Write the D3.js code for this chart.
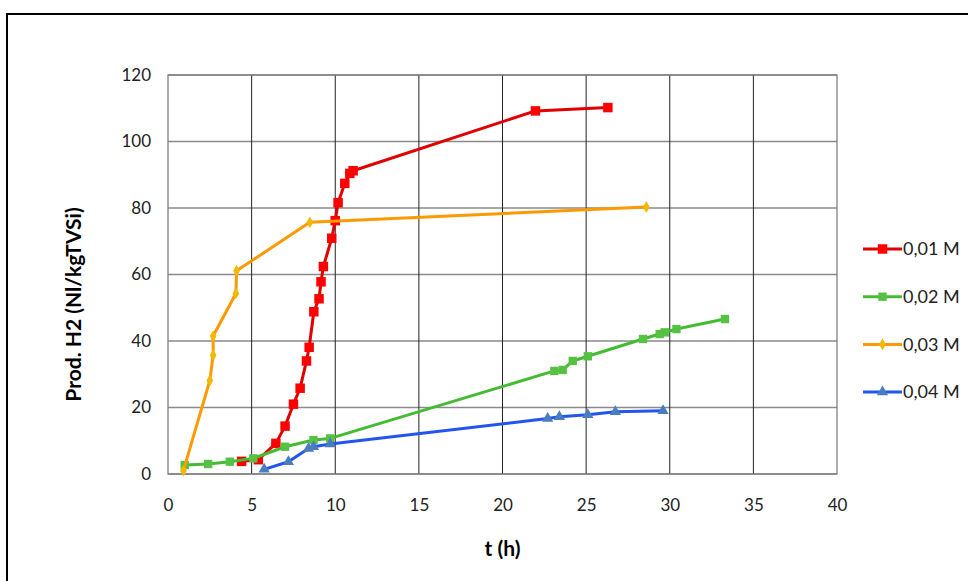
<!DOCTYPE html>
<html>
<head>
<meta charset="utf-8">
<script src="https://cdn.jsdelivr.net/npm/d3@7"></script>
<style>
  body { margin: 0; background: #fff; }
  svg text { font-family: Lato, "Open Sans", sans-serif; }
</style>
</head>
<body>
<div id="chart"></div>
<script>
// data
var t01 = [4.4, 5.4, 6.45, 7.0, 7.5, 7.9, 8.28, 8.44, 8.72, 9.03, 9.15, 9.29, 9.79, 10.0, 10.17, 10.57, 10.87, 11.07, 21.97, 26.3];
var h01 = [3.8, 4.3, 9.2, 14.4, 21, 25.8, 34, 38.1, 48.8, 52.7, 57.8, 62.4, 70.9, 76.2, 81.6, 87.4, 90.4, 91.2, 109.2, 110.2];

var t02 = [1.0, 2.4, 3.7, 5.1, 7.0, 8.7, 9.7, 23.1, 23.6, 24.2, 25.1, 28.4, 29.4, 29.7, 30.4, 33.3];
var h02 = [2.7, 3.0, 3.7, 4.7, 8.2, 10.2, 10.7, 31.0, 31.3, 34.0, 35.4, 40.6, 42.1, 42.6, 43.6, 46.6];

var t03 = [0.92, 2.5, 2.7, 2.7, 4.06, 4.1, 8.48, 28.6];
var h03 = [1.0, 28.1, 35.7, 41.5, 54.3, 61.1, 75.7, 80.3];

var t04 = [5.75, 7.2, 8.4, 8.7, 9.7, 22.7, 23.4, 25.1, 26.75, 29.6];
var h04 = [1.4, 3.7, 7.7, 8.2, 9.0, 16.7, 17.2, 17.8, 18.7, 19.0];

var seriesNames = ["0,01 M", "0,02 M", "0,03 M", "0,04 M"];
var xTicks = [0, 5, 10, 15, 20, 25, 30, 35, 40];
var yTicks = [0, 20, 40, 60, 80, 100, 120];

var series = [
  {name: seriesNames[0], t: t01, h: h01, line: "#e00000", fill: "#ff0000", shape: d3.symbolSquare, size: 90},
  {name: seriesNames[1], t: t02, h: h02, line: "#44bb33", fill: "#55c244", shape: d3.symbolSquare, size: 70},
  {name: seriesNames[2], t: t03, h: h03, line: "#ff9900", fill: "#f5b800", shape: d3.symbolDiamond, size: 40},
  {name: seriesNames[3], t: t04, h: h04, line: "#2255ee", fill: "#4a7cc0", shape: d3.symbolTriangle, size: 55}
];

var W = 968, H = 581;
var margin = {top: 75, right: 131, bottom: 107, left: 168},
    width = W - margin.left - margin.right,
    height = H - margin.top - margin.bottom;

var root = d3.select("#chart").append("svg")
    .attr("width", W)
    .attr("height", H);

// outer frame
root.append("rect")
    .attr("x", 7).attr("y", 14)
    .attr("width", 975).attr("height", 580)
    .attr("fill", "none")
    .attr("stroke", "#000")
    .attr("stroke-width", 2);

var svg = root.append("g")
    .attr("transform", "translate(" + margin.left + "," + margin.top + ")");

var x = d3.scaleLinear().domain([0, 40]).range([0, width]);
var y = d3.scaleLinear().domain([0, 120]).range([height, 0]);

// horizontal grid
svg.append("g")
    .selectAll("line")
    .data(yTicks)
    .enter()
    .append("line")
    .attr("x1", 0).attr("x2", width)
    .attr("y1", function(d) { return y(d); })
    .attr("y2", function(d) { return y(d); })
    .attr("stroke", "#8a8a8a")
    .attr("stroke-width", 1.3);

// vertical grid
svg.append("g")
    .selectAll("line")
    .data(xTicks.slice(1, -1))
    .enter()
    .append("line")
    .attr("y1", 0).attr("y2", height)
    .attr("x1", function(d) { return x(d); })
    .attr("x2", function(d) { return x(d); })
    .attr("stroke", "#222")
    .attr("stroke-width", 1);

// plot border
svg.append("rect")
    .attr("width", width).attr("height", height)
    .attr("fill", "none")
    .attr("stroke", "#808080")
    .attr("stroke-width", 1.3);

// axes (labels only)
var xAxis = svg.append("g")
    .attr("transform", "translate(0," + height + ")")
    .call(d3.axisBottom(x).tickValues(xTicks).tickSize(0).tickPadding(25));
xAxis.select(".domain").remove();
xAxis.selectAll("text").style("font-size", "17px").attr("fill", "#222");

var yAxis = svg.append("g")
    .call(d3.axisLeft(y).tickValues(yTicks).tickSize(0).tickPadding(17));
yAxis.select(".domain").remove();
yAxis.selectAll("text").style("font-size", "17px").attr("fill", "#222");

// axis titles
svg.append("text")
    .attr("x", x(20))
    .attr("y", height + 82)
    .attr("text-anchor", "middle")
    .style("font-size", "21px")
    .attr("font-weight", "bold")
    .text("t (h)");

svg.append("text")
    .attr("transform", "rotate(-90)")
    .attr("x", -(height / 2) - 30)
    .attr("y", -87)
    .attr("text-anchor", "middle")
    .style("font-size", "21px")
    .attr("font-weight", "bold")
    .text("Prod. H2 (Nl/kgTVSi)");

// lines + markers
var line = d3.line()
    .x(function(d) { return x(d[0]); })
    .y(function(d) { return y(d[1]); });

series.forEach(function(s) {
  var pts = s.t.map(function(v, i) { return [v, s.h[i]]; });
  svg.append("path")
      .datum(pts)
      .attr("fill", "none")
      .attr("stroke", s.line)
      .attr("stroke-width", 3)
      .attr("stroke-linejoin", "round")
      .attr("d", line);
  svg.append("g")
      .selectAll("path")
      .data(pts)
      .enter()
      .append("path")
      .attr("transform", function(d) { return "translate(" + x(d[0]) + "," + y(d[1]) + ")"; })
      .attr("d", d3.symbol().type(s.shape).size(s.size))
      .attr("fill", s.fill);
});

// legend
var legend = root.append("g")
    .attr("transform", "translate(863,249)");
var item = legend.selectAll("g")
    .data(series)
    .enter()
    .append("g")
    .attr("transform", function(d, i) { return "translate(0," + (i * 47.7) + ")"; });
item.append("line")
    .attr("x1", 0).attr("x2", 39)
    .attr("stroke", function(d) { return d.line; })
    .attr("stroke-width", 3);
item.append("path")
    .attr("transform", "translate(19.5,0)")
    .attr("d", function(d) { return d3.symbol().type(d.shape).size(d.size)(); })
    .attr("fill", function(d) { return d.fill; });
item.append("text")
    .attr("x", 40)
    .attr("dy", "0.35em")
    .style("font-size", "18px")
    .attr("fill", "#222")
    .text(function(d) { return d.name; });
</script>
</body>
</html>
